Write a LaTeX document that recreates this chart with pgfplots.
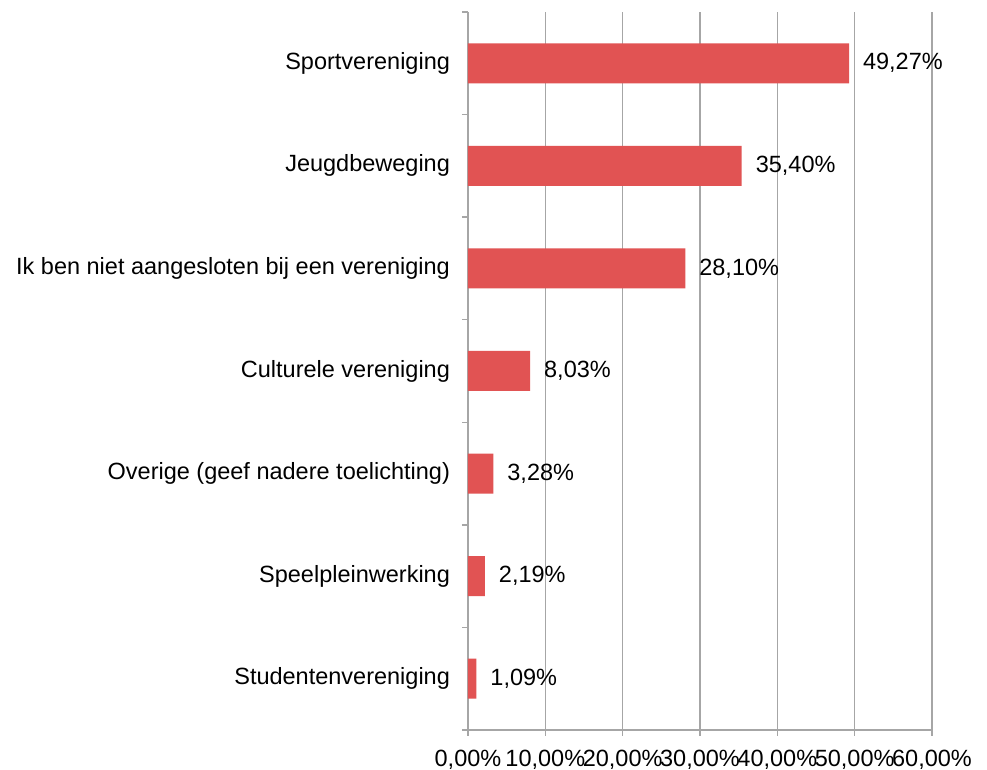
\documentclass[border=0pt]{standalone}
\usepackage{pgfplots}
\pgfplotsset{compat=1.18}
\usepackage{fontspec}
\setmainfont{Liberation Sans}
\definecolor{bar}{HTML}{E15353}
\definecolor{gridgray}{HTML}{A6A6A6}

\begin{document}
\begin{tikzpicture}
\useasboundingbox (-234pt,-20pt) rectangle (259.5pt,365pt);
\begin{axis}[
  at={(0,0)}, anchor=south west,
  scale only axis, width=232pt, height=359pt,
  xbar, bar width=0.39,
  xmin=0, xmax=60, ymin=-0.5, ymax=6.5,
  xtick={0,10,...,60},
  xticklabel={\pgfmathprintnumber[fixed,fixed zerofill,precision=2,use comma]{\tick}\%},
  ytick={-0.5,0.5,...,6.5}, yticklabels={},
  extra y ticks={0,1,2,3,4,5,6},
  extra y tick labels={Studentenvereniging,Speelpleinwerking,Overige (geef nadere toelichting),Culturele vereniging,Ik ben niet aangesloten bij een vereniging,Jeugdbeweging,Sportvereniging},
  extra y tick style={major tick length=0pt, yticklabel style={xshift=-5.5pt}},
  /pgf/number format/assume math mode=true,
  tick label style={font=\fontsize{11.75}{13}\selectfont},
  axis lines=left, axis line style={-, gridgray, line width=0.75pt},
  tick style={gridgray, line width=0.75pt},
  tick align=outside, major tick length=3pt,
  xmajorgrids, major grid style={gridgray, line width=0.8pt},
  xticklabel style={yshift=-3.5pt},
  point meta=x,
  nodes near coords={\pgfmathprintnumber[fixed,fixed zerofill,precision=2,use comma]{\pgfplotspointmeta}\%},
  nodes near coords style={anchor=west, xshift=3.5pt, font=\fontsize{11.75}{13}\selectfont},
]
\addplot[fill=bar, draw=none] coordinates {(1.09,0) (2.19,1) (3.28,2) (8.03,3) (28.10,4) (35.40,5) (49.27,6)};
\end{axis}
\end{tikzpicture}
\end{document}
